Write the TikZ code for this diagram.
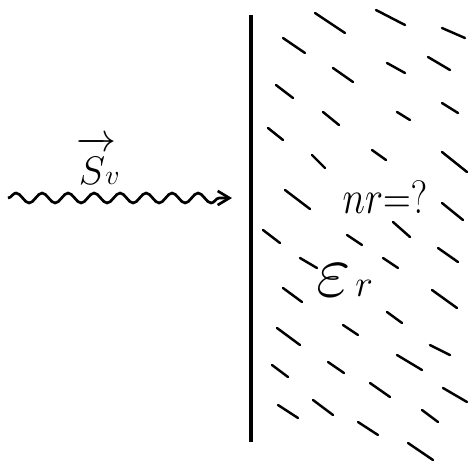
\RequirePackage{fix-cm}
\documentclass[tikz,border=0pt]{standalone}
\usepackage{amsmath}
\usepackage{graphicx}
\usepackage{tikz}
\usetikzlibrary{
  arrows.meta,
  decorations.pathmorphing,
  positioning
}

\begin{document}
\begin{tikzpicture}[
  x=0.03cm, y=-0.03cm,
  wall/.style={line width=3.2pt},
  hatch/.style={line width=2.1pt, line cap=round},
  wave/.style={line width=2.3pt, -{Straight Barb[length=10pt, width=12pt]},
    decorate, decoration={snake, amplitude=0.15cm, segment length=0.78cm, post length=0.35cm}},
  lbl/.style={inner sep=0pt, font=\fontsize{34}{40}\selectfont},
]
\useasboundingbox (0,0) rectangle (468,462);

% Boundary
\coordinate (wtop) at (251,15);
\coordinate (wbot) at (251,442);
\draw[wall] (wtop) -- (wbot);

% Incoming wave
\coordinate (src) at (8,198);
\coordinate (hit) at (232,198);
\draw[wave] (src) -- (hit);
\node[lbl] (sv) at (98,161) {$\overrightarrow{S\mkern4mu\rule{0pt}{0.82em}}\mkern-5mu{\scriptstyle v}$};

% Medium
\foreach \xa/\ya/\xb/\yb in {
  315/13/345/33, 376/10/405/25, 442/28/465/38, 283/38/305/53,
  387/63/405/73, 428/57/450/70, 333/68/353/82, 276/85/293/98,
  442/103/458/113, 323/112/339/125, 397/112/410/120, 268/128/283/140,
  372/150/386/160, 442/152/467/172, 312/155/325/168, 285/190/310/209,
  442/203/463/220, 393/222/410/237, 263/230/280/243, 347/235/362/245,
  438/248/458/262, 300/258/317/268, 383/258/398/268, 283/288/302/302,
  432/290/457/308, 387/312/402/323, 343/325/358/335, 277/328/300/345,
  430/345/450/355, 397/355/422/370, 272/365/288/377, 328/362/344/373,
  370/383/390/397, 443/388/467/402, 278/405/298/418, 313/400/333/415,
  422/410/438/422, 358/422/378/435, 408/443/433/460}
  \draw[hatch] (\xa,\ya) -- (\xb,\yb);

\node[lbl, font=\fontsize{40}{46}\selectfont] (nr) at (385,197) {\scalebox{0.82}[1]{$nr{=}?$}};
\node[lbl, font=\fontsize{64}{70}\selectfont] (er) at (345,280) {$\varepsilon\mkern1mu{\scriptscriptstyle r}$};
\end{tikzpicture}
\end{document}
